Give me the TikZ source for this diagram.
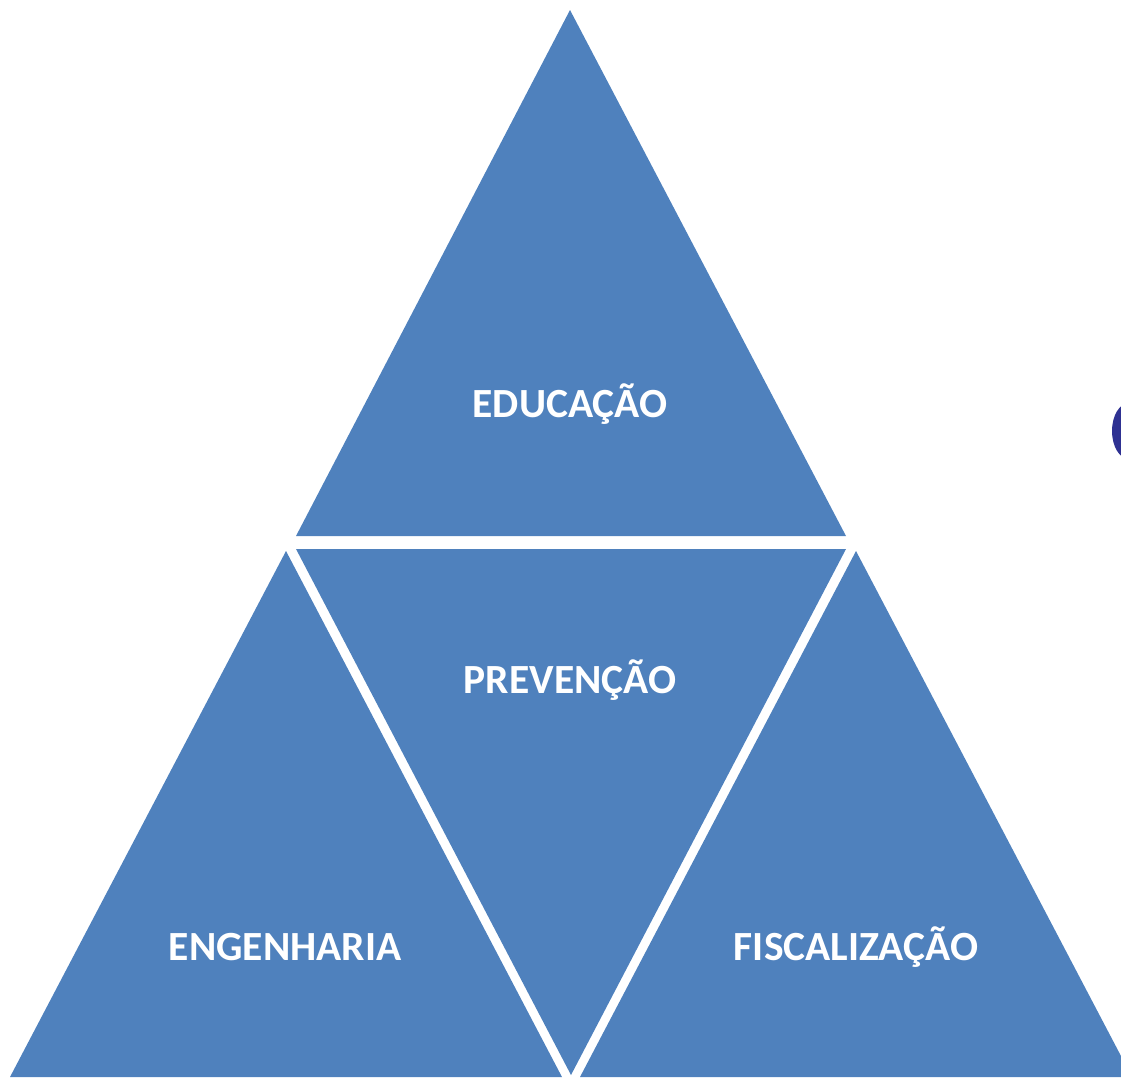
\documentclass[tikz,border=0pt]{standalone}
\usepackage{fontspec}
\setmainfont{Carlito}
\definecolor{tri}{HTML}{4F81BD}
\definecolor{dot}{HTML}{2E3192}
\begin{document}
\begin{tikzpicture}[x=1pt,y=-1pt,
  tripart/.style={fill=tri,draw=none},
  lbl/.style={text=white,font=\fontsize{41.5}{50}\selectfont\bfseries,inner sep=0pt,anchor=base}]
\useasboundingbox (0,0) rectangle (1121,1077);
\clip (0,0) rectangle (1121,1077);
\fill[tripart] (570,10) -- (846,536) -- (296,536) -- cycle;
\fill[tripart] (296,549) -- (846,549) -- (571,1075) -- cycle;
\fill[tripart] (286,551) -- (562,1077) -- (10,1077) -- cycle;
\fill[tripart] (856,551) -- (1132,1077) -- (580,1077) -- cycle;
\fill[dot] (1129,431) ellipse [x radius=17, y radius=28];
\node[lbl] (edu) at (570,417) {EDUCAÇÃO};
\node[lbl] (pre) at (570,693) {PREVENÇÃO};
\node[lbl] (eng) at (285,960) {ENGENHARIA};
\node[lbl] (fis) at (856,960) {FISCALIZAÇÃO};
\end{tikzpicture}
\end{document}
